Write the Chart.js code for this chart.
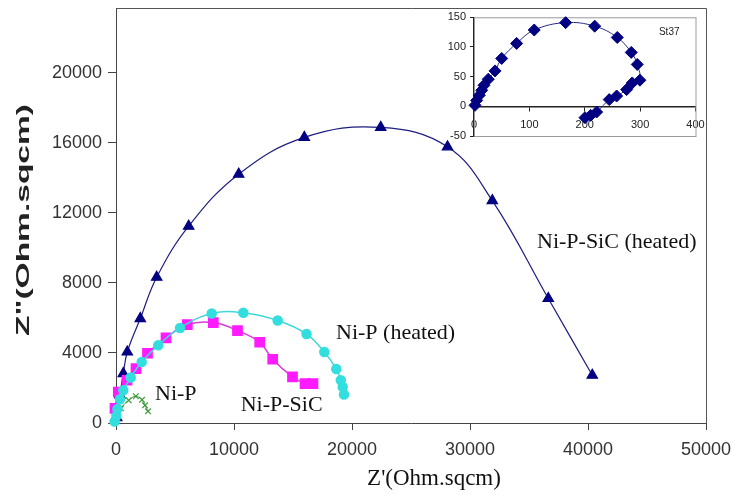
<!DOCTYPE html>
<html>
<head>
<meta charset="utf-8">
<script src="https://cdn.jsdelivr.net/npm/chart.js@4.4.0/dist/chart.umd.min.js"></script>
<style>
  html, body { margin: 0; padding: 0; background: #fff; }
  #wrap { position: relative; width: 737px; height: 497px; }
  #main { position: absolute; left: 0; top: 0; }
  #inset { position: absolute; left: 420px; top: 8px; }
</style>
</head>
<body>
<div id="wrap">
  <canvas id="main" width="737" height="497"></canvas>
  <canvas id="inset" width="285" height="135"></canvas>
</div>
<script>
// Nyquist data (Ohm.sqcm)
const niPHeatedX = [-120, 30, 120, 339, 619, 1246, 2178, 3585, 5424, 8110, 10788, 13703, 16144, 17653, 18670, 19051, 19212, 19322];
const niPHeatedY = [90, 400, 800, 1354, 1869, 2594, 3486, 4440, 5429, 6251, 6297, 5851, 5080, 4057, 3080, 2440, 2057, 1623];

const niPX = [85, 424, 1076, 1678, 2203, 2458, 2712];
const niPY = [269, 840, 1297, 1526, 1326, 1011, 669];

const niPSiCX = [-212, -85, 195, 932, 1695, 2669, 4237, 6042, 8246, 10297, 12178, 13280, 14958, 16017, 16695];
const niPSiCY = [269, 840, 1771, 2440, 3109, 3983, 4857, 5623, 5737, 5280, 4611, 3640, 2629, 2251, 2251];

const niPSiCHeatedX = [60, 330, 619, 958, 2059, 3449, 6161, 10398, 15958, 22432, 28093, 31890, 36636, 40364];
const niPSiCHeatedY = [300, 1600, 2823, 4057, 5966, 8326, 11240, 14211, 16309, 16880, 15771, 12697, 7109, 2726];

// inset: St37
const st37X = [1.8, 4.8, 9.6, 13.9, 18, 25.8, 37.9, 50, 77, 108.8, 165.5, 218, 258.7, 284, 294.8, 299.6, 285.7, 275.6, 257.6, 244.2, 221.5, 210.6, 200.4];
const st37Y = [1.7, 10, 18.6, 27, 35.5, 45.7, 59.7, 80.7, 106, 128.6, 141, 135, 116, 90.9, 70.6, 44, 39.4, 28.2, 17.4, 11.3, -9.6, -15.2, -19.1];

const xTickValues = [0, 10000, 20000, 30000, 40000, 50000];
const yTickValues = [0, 4000, 8000, 12000, 16000, 20000];
const insetXTicks = [0, 100, 200, 300, 400];
const insetYTicks = [-50, 0, 50, 100, 150];

const curveNames = ["Ni-P-SiC (heated)", "Ni-P (heated)", "Ni-P", "Ni-P-SiC"];
// where each curve name sits (left edge, baseline) in data units
const nameAnchors = [[35678, 9983], [18644, 4783], [3305, 1297], [10568, 686]];

function pts(xs, ys) {
    return xs.map((x, i) => ({ x: x, y: ys[i] }));
}

const sans = '"Liberation Sans", Arial, sans-serif';
const serif = '"Liberation Serif", "Times New Roman", serif';

// chart.js reserves half a label + padding at the ends; the box here is fixed
function noEndPadding(s) {
    s.paddingTop = 0;
    s.paddingBottom = 0;
    s.paddingLeft = 0;
    s.paddingRight = 0;
}

const mainDecor = {
    id: "mainDecor",
    afterDraw(chart) {
        const ctx = chart.ctx;
        const a = chart.chartArea;
        const xs = chart.scales.x, ys = chart.scales.y;
        ctx.save();
        // top and right edges of the plot box
        ctx.strokeStyle = "#555";
        ctx.lineWidth = 1;
        ctx.beginPath();
        ctx.moveTo(a.left, a.top + 0.5);
        ctx.lineTo(a.right + 0.5, a.top + 0.5);
        ctx.lineTo(a.right + 0.5, a.bottom);
        ctx.stroke();

        // curve names
        ctx.fillStyle = "#111";
        ctx.font = "22px " + serif;
        ctx.textBaseline = "alphabetic";
        ctx.textAlign = "left";
        curveNames.forEach((name, i) => {
            ctx.fillText(name, xs.getPixelForValue(nameAnchors[i][0]), ys.getPixelForValue(nameAnchors[i][1]));
        });

        // axis titles
        ctx.textAlign = "center";
        ctx.textBaseline = "middle";
        ctx.font = "23px " + serif;
        ctx.fillText("Z'(Ohm.sqcm)", 434, 479);

        ctx.translate(24, 220);
        ctx.rotate(-Math.PI / 2);
        ctx.font = "bold 18px " + sans;
        ctx.fillStyle = "#222";
        const yTitle = 'Z"(Ohm.sqcm)';
        const stretch = 232 / ctx.measureText(yTitle).width;
        ctx.scale(stretch, 1);
        ctx.fillText(yTitle, 0, 0);
        ctx.restore();
    }
};

new Chart(document.getElementById("main"), {
    type: "scatter",
    data: {
        datasets: [
            {
                label: "Ni-P (heated)",
                data: pts(niPHeatedX, niPHeatedY),
                showLine: true, tension: 0.4, clip: false,
                borderColor: "#3fd8d8", borderWidth: 1.5,
                pointStyle: "circle", pointRadius: 4.5,
                pointBackgroundColor: "#33dede", pointBorderColor: "#33dede"
            },
            {
                label: "Ni-P",
                data: pts(niPX, niPY),
                showLine: true, tension: 0.4, clip: false,
                borderColor: "#3a9a3a", borderWidth: 1,
                pointStyle: "crossRot", pointRadius: 4, pointBorderWidth: 1.2,
                pointBorderColor: "#3a9a3a", pointBackgroundColor: "#3a9a3a"
            },
            {
                label: "Ni-P-SiC",
                data: pts(niPSiCX, niPSiCY),
                showLine: true, tension: 0.4, clip: false,
                borderColor: "#d63cd6", borderWidth: 1.5,
                pointStyle: "rect", pointRadius: 6.5,
                pointBackgroundColor: "#ff1aff", pointBorderColor: "#ff1aff"
            },
            {
                label: "Ni-P-SiC (heated)",
                data: pts(niPSiCHeatedX, niPSiCHeatedY),
                showLine: true, tension: 0.4, clip: false,
                borderColor: "#1c1c80", borderWidth: 1.2,
                pointStyle: "triangle", pointRadius: 6,
                pointBackgroundColor: "#000080", pointBorderColor: "#000080"
            }
        ]
    },
    options: {
        responsive: false,
        animation: false,
        devicePixelRatio: 1,
        layout: { padding: { top: 8, right: 31, left: 0, bottom: 0 } },
        plugins: { legend: { display: false }, tooltip: { enabled: false } },
        scales: {
            x: {
                type: "linear", min: 0, max: 50000,
                afterBuildTicks: s => { s.ticks = xTickValues.map(v => ({ value: v })); },
                afterFit: s => { s.height = 74; noEndPadding(s); },
                ticks: { callback: v => String(v), font: { family: sans, size: 18 }, color: "#333", padding: 9, maxRotation: 0, autoSkip: false },
                grid: { drawOnChartArea: false, drawTicks: true, tickLength: 7, color: "#444" },
                border: { color: "#444", width: 1 }
            },
            y: {
                type: "linear", min: 0, max: 23700,
                afterBuildTicks: s => { s.ticks = yTickValues.map(v => ({ value: v })); },
                afterFit: s => { s.width = 116; noEndPadding(s); },
                ticks: { callback: v => String(v), font: { family: sans, size: 18 }, color: "#333", padding: 6, autoSkip: false },
                grid: { drawOnChartArea: false, drawTicks: true, tickLength: 8, color: "#444" },
                border: { color: "#444", width: 1 }
            }
        }
    },
    plugins: [mainDecor]
});

const insetDecor = {
    id: "insetDecor",
    beforeDatasetsDraw(chart) {
        const ctx = chart.ctx;
        const a = chart.chartArea;
        ctx.save();
        ctx.strokeStyle = "#9a9a9a";
        ctx.lineWidth = 1;
        ctx.strokeRect(a.left + 0.5, a.top + 0.5, a.right - a.left, a.bottom - a.top);
        ctx.restore();
    },
    afterDraw(chart) {
        const ctx = chart.ctx;
        const xs = chart.scales.x, ys = chart.scales.y;
        ctx.save();
        ctx.fillStyle = "#222";
        ctx.font = "10px " + sans;
        ctx.textAlign = "left";
        ctx.textBaseline = "middle";
        ctx.fillText("St37", xs.getPixelForValue(334), ys.getPixelForValue(124));
        ctx.restore();
    }
};

new Chart(document.getElementById("inset"), {
    type: "scatter",
    data: {
        datasets: [{
            label: "St37",
            data: pts(st37X, st37Y),
            showLine: true, tension: 0.4, clip: false,
            borderColor: "#2a2a8a", borderWidth: 1,
            pointStyle: "rectRot", pointRadius: 6,
            pointBackgroundColor: "#000080", pointBorderColor: "#000080"
        }]
    },
    options: {
        responsive: false,
        animation: false,
        devicePixelRatio: 1,
        layout: { padding: { top: 9.3, right: 9.5, left: 0, bottom: 6.3 } },
        plugins: { legend: { display: false }, tooltip: { enabled: false } },
        scales: {
            x: {
                type: "linear", min: 0, max: 400,
                position: { y: 0 },
                afterBuildTicks: s => { s.ticks = insetXTicks.map(v => ({ value: v })); },
                afterFit: noEndPadding,
                ticks: { font: { family: sans, size: 11 }, color: "#222", padding: 8, maxRotation: 0, autoSkip: false },
                grid: { drawOnChartArea: false, drawTicks: true, tickLength: 4, color: "#222" },
                border: { color: "#222", width: 1.5 }
            },
            y: {
                type: "linear", min: -50, max: 150,
                afterBuildTicks: s => { s.ticks = insetYTicks.map(v => ({ value: v })); },
                afterFit: s => { s.width = 54; noEndPadding(s); },
                ticks: { font: { family: sans, size: 11 }, color: "#222", padding: 4, autoSkip: false },
                grid: { drawOnChartArea: false, drawTicks: true, tickLength: 4, color: "#222" },
                border: { color: "#222", width: 1.5 }
            }
        }
    },
    plugins: [insetDecor]
});
</script>
</body>
</html>
